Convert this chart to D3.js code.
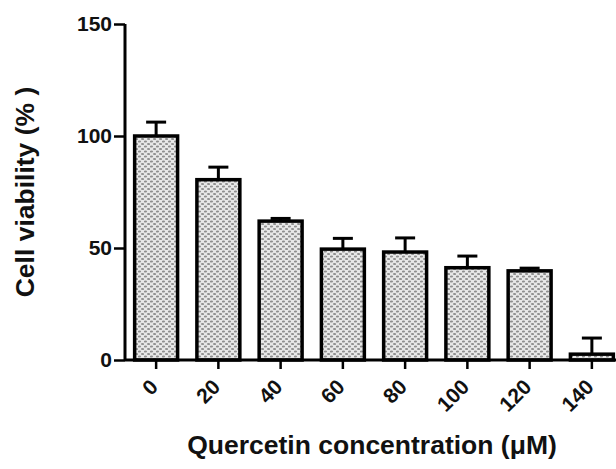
<!DOCTYPE html>
<html lang="en">
<head>
    <meta charset="UTF-8">
    <title>Cell viability</title>
    <script src="https://d3js.org/d3.v7.min.js"></script>
    <style>
        body { margin: 0; background: #fff; }
        text { font-family: "Liberation Sans", Arial, sans-serif; font-weight: bold; fill: #111; }
    </style>
</head>
<body>
<svg id="chart"></svg>
<script>
    // data
    const concentrations = ["0", "20", "40", "60", "80", "100", "120", "140"];
    const viability = [100, 80.5, 62, 49.5, 48.2, 41.2, 39.8, 2.6];
    const errors = [6.2, 5.6, 1.2, 4.8, 6.3, 5.2, 1.2, 7.2];
    const yTicks = [0, 50, 100, 150];

    const width = 616, height = 469;
    const svg = d3.select("#chart")
        .attr("width", width)
        .attr("height", height);

    // dotted fill for the bars
    const pat = svg.append("defs").append("pattern")
        .attr("id", "dots")
        .attr("patternUnits", "userSpaceOnUse")
        .attr("width", 6).attr("height", 5);
    pat.append("rect").attr("width", 6).attr("height", 5).attr("fill", "#e8e8e8");
    pat.append("ellipse").attr("cx", 1.5).attr("cy", 1.5).attr("rx", 1.6).attr("ry", 0.9).attr("fill", "#8f8f8f");
    pat.append("ellipse").attr("cx", 4.5).attr("cy", 4).attr("rx", 1.6).attr("ry", 0.9).attr("fill", "#8f8f8f");

    const x = d3.scaleBand()
        .domain(concentrations)
        .range([125, 623])
        .paddingInner(0.31)
        .paddingOuter(0.155);

    const y = d3.scaleLinear()
        .domain([0, 150])
        .range([360, 24]);

    // bars
    svg.append("g")
        .selectAll("rect")
        .data(viability)
        .enter()
        .append("rect")
        .attr("x", (d, i) => x(concentrations[i]))
        .attr("y", d => y(d))
        .attr("width", x.bandwidth())
        .attr("height", d => y(0) - y(d))
        .attr("fill", "url(#dots)")
        .attr("stroke", "#000")
        .attr("stroke-width", 3.5);

    // error bars (upper only)
    const eb = svg.append("g").attr("stroke", "#000").attr("stroke-width", 3);
    viability.forEach(function (d, i) {
        const cx = x(concentrations[i]) + x.bandwidth() / 2;
        eb.append("line")
            .attr("x1", cx).attr("x2", cx)
            .attr("y1", y(d)).attr("y2", y(d + errors[i]));
        eb.append("line")
            .attr("x1", cx - 10).attr("x2", cx + 10)
            .attr("y1", y(d + errors[i])).attr("y2", y(d + errors[i]));
    });

    // y axis
    const yAxis = svg.append("g")
        .attr("transform", "translate(125,0)")
        .call(d3.axisLeft(y).tickValues(yTicks).tickSize(11).tickPadding(2));
    yAxis.select(".domain").attr("stroke-width", 3).attr("d", "M0," + y(0) + "V" + y(150));
    yAxis.selectAll(".tick line").attr("stroke-width", 2.5);
    yAxis.selectAll(".tick text")
        .attr("font-size", 21)
        .attr("font-family", "Liberation Sans, Arial, sans-serif")
        .attr("font-weight", "bold");

    // x axis
    const xAxis = svg.append("g")
        .attr("transform", "translate(0,360)")
        .call(d3.axisBottom(x).tickSize(9).tickSizeOuter(0));
    xAxis.select(".domain").attr("stroke-width", 3).attr("d", "M125,0H616");
    xAxis.selectAll(".tick line").attr("stroke-width", 2.5);
    xAxis.selectAll(".tick text")
        .attr("font-size", 21)
        .attr("font-family", "Liberation Sans, Arial, sans-serif")
        .attr("font-weight", "bold")
        .attr("text-anchor", "end")
        .attr("dy", "0.35em")
        .attr("transform", "translate(-2,23) rotate(-45)")
        .attr("y", 0).attr("x", 0);

    // axis titles
    svg.append("text")
        .attr("transform", "translate(34,192) rotate(-90)")
        .attr("text-anchor", "middle")
        .attr("font-size", 26.5)
        .text("Cell viability (% )");

    svg.append("text")
        .attr("x", 372)
        .attr("y", 454)
        .attr("text-anchor", "middle")
        .attr("font-size", 26.5)
        .text("Quercetin concentration (μM)");
</script>
</body>
</html>
